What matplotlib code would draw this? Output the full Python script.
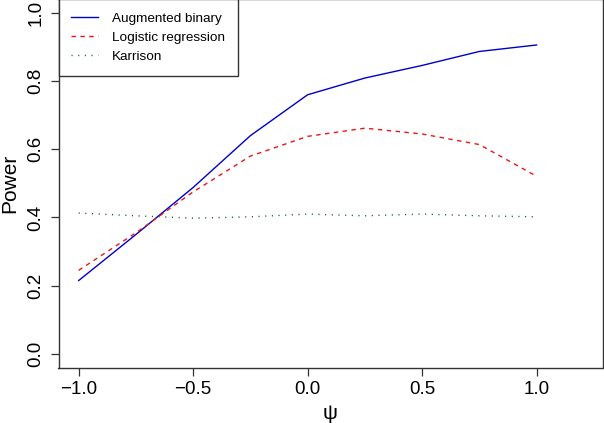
import matplotlib
matplotlib.use("Agg")
import matplotlib.pyplot as plt

plt.rcParams['font.family'] = ['Liberation Sans', 'DejaVu Sans']

psi = [-1.0, -0.75, -0.5, -0.25, 0.0, 0.25, 0.5, 0.75, 1.0]
augmented = [0.215, 0.35, 0.488, 0.640, 0.760, 0.809, 0.846, 0.887, 0.906]
logistic = [0.245, 0.355, 0.475, 0.580, 0.638, 0.662, 0.645, 0.614, 0.521]
karrison = [0.413, 0.405, 0.398, 0.402, 0.410, 0.405, 0.410, 0.405, 0.402]

xticks = [-1.0, -0.5, 0.0, 0.5, 1.0]
xticklabels = ["\u22121.0", "\u22120.5", "0.0", "0.5", "1.0"]
yticks = [0.0, 0.2, 0.4, 0.6, 0.8, 1.0]
yticklabels = ["0.0", "0.2", "0.4", "0.6", "0.8", "1.0"]

W, H = 604, 423
fig = plt.figure(figsize=(W / 100, H / 100), dpi=100)
left, right, top, bottom = 58.5, 602.5, -0.7, 367.5
ax = fig.add_axes([left / W, 1 - bottom / H, (right - left) / W, (bottom - top) / H])

ax.plot(psi, augmented, color='#0000cc', lw=1.0, label='Augmented binary')
ax.plot(psi, logistic, color='#e8161b', lw=1.0, dashes=(3.2, 3.2), label='Logistic regression')
ax.plot(psi, karrison, color='#1a5c2a', lw=1.0, dashes=(0.8, 4.0), label='Karrison')

ax.set_xlim(-1.088, 1.288)
ax.set_ylim(-0.04, 1.04)
ax.set_xticks(xticks)
ax.set_xticklabels(xticklabels, fontsize=13.5)
ax.set_yticks(yticks)
ax.set_yticklabels(yticklabels, fontsize=13.5, rotation=90, va='center')
ax.tick_params(direction='out', length=6, width=0.9, color='#333333', pad=4)

for s in ax.spines.values():
    s.set_color('#333333')
    s.set_linewidth(1.0)

ax.set_xlabel('\u03c8', fontsize=15, labelpad=4)
ax.set_ylabel('Power', fontsize=15, labelpad=6)

leg = ax.legend(loc='upper left', bbox_to_anchor=(0, 1), borderaxespad=0,
                fontsize=9.7, frameon=True, fancybox=False, framealpha=1,
                edgecolor='#333333', handlelength=2.0, handletextpad=1.0,
                labelspacing=0.5, borderpad=0.95)
leg.get_frame().set_linewidth(1.0)

fig.savefig('out.png', dpi=100)
